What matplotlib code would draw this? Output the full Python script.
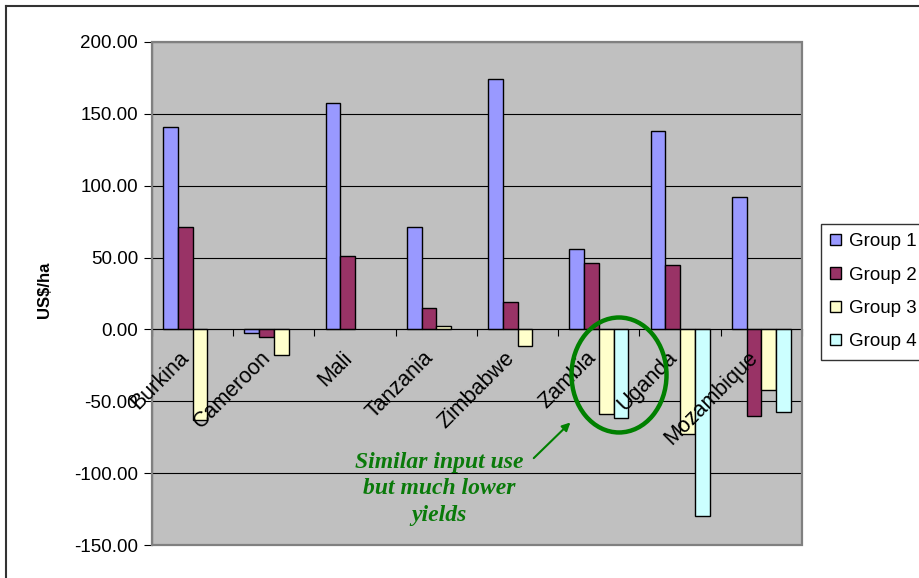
import numpy as np
import matplotlib

matplotlib.use("Agg")
import matplotlib.pyplot as plt
from matplotlib.patches import Ellipse, Rectangle
from matplotlib.lines import Line2D

countries = ["Burkina", "Cameroon", "Mali", "Tanzania", "Zimbabwe", "Zambia", "Uganda", "Mozambique"]
groups = ["Group 1", "Group 2", "Group 3", "Group 4"]
group1 = [140.8, -2.6, 157.8, 71.6, 174.4, 56.2, 138.4, 92.4]
group2 = [71.6, -5.2, 50.9, 15.2, 19.2, 46.2, 44.8, -60.4]
group3 = [-63.0, -18.0, np.nan, 2.4, -11.6, -59.0, -73.0, -42.4]
group4 = [np.nan, np.nan, np.nan, np.nan, np.nan, -61.6, -129.6, -57.8]
colors = ["#9999FF", "#993366", "#FFFFCC", "#CCFFFF"]
yticks = [-150, -100, -50, 0, 50, 100, 150, 200]

plt.rcParams["font.family"] = ["Liberation Sans", "DejaVu Sans"]

W, H = 920, 578
fig = plt.figure(figsize=(W / 100, H / 100), dpi=100)
ax = fig.add_axes([152 / W, 1 - 545 / H, (802 - 152) / W, (545 - 42) / H])
ax.set_facecolor("#C0C0C0")

# clustered bars, Excel-style gap width 150%
n = len(countries)
x = np.arange(n) + 0.5
w = 1 / 5.5
for j, (vals, c, lab) in enumerate(zip([group1, group2, group3, group4], colors, groups)):
    ax.bar(x + (j - 1.5) * w, vals, width=w, color=c, edgecolor="black",
           linewidth=1.0, label=lab, zorder=3)

ax.set_xlim(0, n)
ax.set_ylim(-150, 200)
ax.set_yticks(yticks)
ax.set_yticklabels([f"{v:.2f}" for v in yticks], fontsize=13.5)
ax.grid(axis="y", color="black", linewidth=0.8, zorder=0)
ax.tick_params(axis="y", direction="out", length=6, width=0.8, pad=4)

# category axis sits at zero
ax.spines["bottom"].set_position(("data", 0))
ax.spines["bottom"].set_zorder(4)
ax.set_xticks(np.arange(n + 1))
ax.set_xticklabels([])
ax.tick_params(axis="x", direction="out", length=5, width=0.8)
ax.spines["top"].set_visible(False)
ax.spines["right"].set_visible(False)
ax.spines["left"].set_linewidth(0.8)
ax.add_patch(Rectangle((0, 0), 1, 1, transform=ax.transAxes, fill=False,
                       edgecolor="#808080", linewidth=1.6, clip_on=False, zorder=5))

for xi, name in zip(x, countries):
    ax.text(xi - 0.17, -12.5, name, rotation=45, rotation_mode="anchor",
            ha="right", va="top", fontsize=15.5, zorder=6)

fig.text(45 / W, 1 - 290 / H, r"US\$/ha", rotation=90, fontsize=12,
         fontweight="bold", ha="center", va="center")

# annotation: circled Zambia/Uganda bars
ax.add_patch(Ellipse((5.748, -31.7), 1.169, 80.0, fill=False,
                     edgecolor="#008000", linewidth=3.2, zorder=7))
ax.annotate("", xy=(5.174, -63.4), xytext=(4.674, -90.9),
            arrowprops=dict(arrowstyle="-|>", color="#008000", lw=1.5,
                            mutation_scale=12), zorder=7)
ax.text(3.532, -111, "Similar input use\nbut much lower\nyields",
        ha="center", va="center", color="#0A7A0A", fontsize=17,
        family=["Liberation Serif", "DejaVu Serif"], fontweight="bold",
        fontstyle="italic", linespacing=1.37, zorder=7)

leg = fig.legend(loc="upper left", bbox_to_anchor=(821 / W, 1 - 224 / H),
                 bbox_transform=fig.transFigure, fontsize=13.5, frameon=True,
                 fancybox=False, edgecolor="black", borderaxespad=0,
                 handlelength=0.55, handleheight=0.55, handletextpad=0.45,
                 labelspacing=0.87, borderpad=0.5)
leg.get_frame().set_linewidth(1.0)

# outer chart border
fig.add_artist(Line2D([6 / W, 1], [1 - 6 / H, 1 - 6 / H], transform=fig.transFigure,
                      color="#333333", linewidth=1.5))
fig.add_artist(Line2D([6 / W, 6 / W], [0, 1 - 6 / H], transform=fig.transFigure,
                      color="#333333", linewidth=1.5))

fig.savefig("out.png", dpi=100)
